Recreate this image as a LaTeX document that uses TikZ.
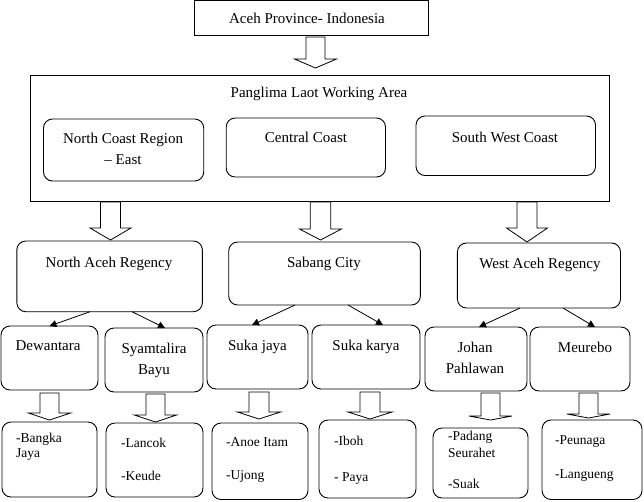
\documentclass[tikz,border=0pt]{standalone}
\usepackage{fontspec}
\setmainfont{Liberation Serif}
\usetikzlibrary{arrows.meta,fit}
\tikzset{
  sqbox/.style={draw=black, line width=0.9pt, inner sep=0pt, outer sep=0pt},
  rbox/.style={sqbox, rounded corners=9pt},
  lbl/.style={inner sep=0pt, anchor=north, align=center, font=\fontsize{15}{20.5}\selectfont},
  llbl/.style={inner sep=0pt, anchor=north west, align=left, font=\fontsize{13.5}{15}\selectfont},
  hollow/.style={draw=black, line width=0.8pt, fill=white, line join=miter},
  conn/.style={draw=black, line width=0.8pt, -{Triangle[length=7pt,width=7pt]}}
}
\newcommand\hollowarrow[6]{%
  \draw[hollow] (#1-#5,#2) -- (#1-#5,#3) -- (#1-#6,#3) -- (#1,#4) -- (#1+#6,#3) -- (#1+#5,#3) -- (#1+#5,#2) -- cycle;}
\begin{document}
\begin{tikzpicture}[x=1pt,y=-1pt]
\useasboundingbox (0,0) rectangle (644,501);
% boxes
\node[sqbox, fit={(194,0.5) (428,35)}] (top) {};
\node[sqbox, fit={(30,75) (609,201.7)}] (area) {};
\node[rbox, fit={(43.5,119) (203.7,181)}] (ncr) {};
\node[rbox, fit={(226.2,118) (385.5,177)}] (cc) {};
\node[rbox, fit={(416,116) (595.5,175.5)}] (swc) {};
\node[rbox, fit={(16.8,241) (202.4,311.7)}] (na) {};
\node[rbox, fit={(228.7,242) (420.4,305)}] (sc) {};
\node[rbox, fit={(457.4,243) (620.5,308)}] (wa) {};
\node[rbox, fit={(1,326) (98,390)}] (dew) {};
\node[rbox, fit={(105,328) (203,392)}] (sya) {};
\node[rbox, fit={(207,325) (308,389)}] (sj) {};
\node[rbox, fit={(312,325) (420,389)}] (sk) {};
\node[rbox, fit={(425,327) (527,391)}] (jp) {};
\node[rbox, fit={(530,327) (630,391)}] (meu) {};
\node[rbox, fit={(2,422) (97,497)}] (bj) {};
\node[rbox, fit={(106,423) (203,497)}] (la) {};
\node[rbox, fit={(212,423) (308,499.5)}] (ai) {};
\node[rbox, fit={(319,420) (416,498)}] (ib) {};
\node[rbox, fit={(433,428) (528,498)}] (ps) {};
\node[rbox, fit={(542,420) (642,499.5)}] (pe) {};
% labels
\node[lbl] (t-top) at (307,13) {Aceh Province- Indonesia};
\node[lbl] (t-area) at (319,87) {Panglima Laot Working Area};
\node[lbl] (t-ncr) at (123,133) {North Coast Region\\-- East};
\node[lbl] (t-cc) at (306,132) {Central Coast};
\node[lbl] (t-swc) at (505,132) {South West Coast};
\node[lbl] (t-na) at (109,257) {North Aceh Regency};
\node[lbl] (t-sc) at (324,257) {Sabang City};
\node[lbl] (t-wa) at (540,258) {West Aceh Regency};
\node[lbl] (t-dew) at (48,340) {Dewantara};
\node[lbl] (t-sya) at (154,343) {Syamtalira\\Bayu};
\node[lbl] (t-sj) at (257.5,340) {Suka jaya};
\node[lbl] (t-sk) at (366,340) {Suka karya};
\node[lbl] (t-jp) at (475,342) {Johan\\Pahlawan};
\node[lbl] (t-meu) at (585,342) {Meurebo};
\node[llbl] (t-bj) at (16,432.5) {-Bangka\\Jaya};
\node[llbl] (t-la) at (121,437.5) {-Lancok\\[18pt]-Keude};
\node[llbl] (t-ai) at (226,437.5) {-Anoe Itam\\[18pt]-Ujong};
\node[llbl] (t-ib) at (334,435.5) {-Iboh\\[21pt]- Paya};
\node[llbl] (t-ps) at (448,430.5) {-Padang\\[2pt]Seurahet\\[16pt]-Suak};
\node[llbl] (t-pe) at (555,435.5) {-Peunaga\\[19pt]-Langueng};
% hollow block arrows
\hollowarrow{315.5}{37}{59}{68}{9.5}{21}
\hollowarrow{110.5}{202}{228}{240}{10}{20.5}
\hollowarrow{320.5}{202}{229}{240}{10.3}{21}
\hollowarrow{527}{202}{228}{242}{10}{20.5}
\hollowarrow{49.5}{393}{413}{420}{9.5}{21}
\hollowarrow{155.5}{394}{415}{422}{9.5}{21}
\hollowarrow{259}{392}{412}{419}{10}{21.5}
\hollowarrow{370}{392}{412}{419}{10}{22}
\hollowarrow{490.5}{393}{416}{420}{9.5}{21.5}
\hollowarrow{588.5}{393}{414}{418}{9.5}{21.5}
% connectors
\draw[conn] ([xshift=-19.6pt]na.south) -- (dew.north);
\draw[conn] ([xshift=22.4pt]na.south) -- ([xshift=11pt]sya.north);
\draw[conn] ([xshift=-29.5pt]sc.south) -- ([xshift=-5.5pt]sj.north);
\draw[conn] ([xshift=23.5pt]sc.south) -- ([xshift=17pt]sk.north);
\draw[conn] ([xshift=-19pt]wa.south) -- ([xshift=3pt]jp.north);
\draw[conn] ([xshift=24pt]wa.south) -- ([xshift=15pt]meu.north);
\end{tikzpicture}
\end{document}
